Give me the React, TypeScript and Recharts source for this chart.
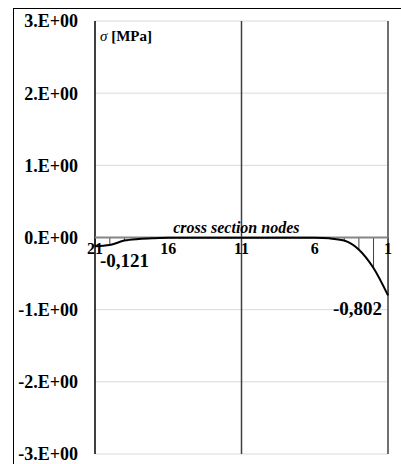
import React from 'react';
import {
  ComposedChart,
  Line,
  Bar,
  XAxis,
  YAxis,
  CartesianGrid,
  ReferenceLine,
  ReferenceDot,
  LabelList
} from 'recharts';

// stress along the cross section, node 21 -> node 1
const nodes = [21, 20, 19, 18, 17, 16, 15, 14, 13, 12, 11, 10, 9, 8, 7, 6, 5, 4, 3, 2, 1];
const stress = [
  -0.121, -0.105, -0.042, -0.02, -0.01, -0.005, -0.003, -0.002, -0.002, -0.002, -0.002,
  -0.002, -0.002, -0.002, -0.003, -0.004, -0.012, -0.042, -0.165, -0.42, -0.802
];
const nodeTicks = [21, 16, 11, 6, 1];
const yTicks = [3, 2, 1, 0, -1, -2, -3];
const dividers = [21, 11, 1];

const SERIF = '"Liberation Serif", "Times New Roman", serif';

const data = nodes.map((n, i) => ({ node: n, s: stress[i] }));

const fmtComma = (v: number) => v.toFixed(3).replace('.', ',');

const EndLabel = (props: any) => {
  const { x, y, value, index } = props;
  if (index !== 0 && index !== data.length - 1) return null;
  const first = index === 0;
  return (
    <text
      x={first ? x + 5 : x - 6}
      y={first ? y + 21 : y + 20}
      textAnchor={first ? 'start' : 'end'}
      fontFamily={SERIF}
      fontWeight="bold"
      fontSize={19}
      fill="#000"
    >
      {fmtComma(value)}
    </text>
  );
};

const UnitLabel = (props: any) => {
  const { viewBox } = props;
  return (
    <text x={viewBox.x + 5} y={viewBox.y + 20} fontFamily={SERIF} fontSize={15} fill="#000">
      <tspan fontStyle="italic">σ</tspan>
      <tspan fontWeight="bold"> [MPa]</tspan>
    </text>
  );
};

export default function App() {
  return (
    <div style={{ position: 'relative', width: 401, height: 464, overflow: 'hidden', background: '#fff' }}>
      <style>{'body{margin:0;overflow:hidden}'}</style>
      <div
        style={{
          position: 'absolute',
          left: 13,
          top: 8,
          width: 420,
          height: 480,
          border: '1px solid #000',
          boxSizing: 'border-box'
        }}
      />
      <div style={{ position: 'absolute', left: 0, top: 0 }}>
        <ComposedChart
          width={401}
          height={464}
          data={data}
          margin={{ top: 21, right: 13, bottom: 10, left: 0 }}
        >
          <CartesianGrid horizontal vertical={false} stroke="#d9d9d9" strokeWidth={1} />
          <XAxis dataKey="node" type="number" domain={[1, 21]} reversed hide />
          <YAxis
            type="number"
            domain={[-3, 3]}
            ticks={yTicks}
            width={95}
            axisLine={false}
            tickLine={false}
            tickSize={0}
            tickMargin={17}
            tickFormatter={(v: number) => `${v}.E+00`}
            tick={{ fontFamily: SERIF, fontWeight: 'bold', fontSize: 18, fill: '#000' }}
          />
          {dividers.map((d) => (
            <ReferenceLine
              key={d}
              x={d}
              stroke={d === 21 ? '#000' : '#404040'}
              strokeWidth={1.5}
            />
          ))}
          <Bar dataKey="s" barSize={1} fill="#404040" isAnimationActive={false} />
          <ReferenceLine y={0} stroke="#868686" strokeWidth={2} />
          <Line
            type="monotone"
            dataKey="s"
            stroke="#000"
            strokeWidth={2}
            dot={false}
            activeDot={false}
            isAnimationActive={false}
          >
            <LabelList dataKey="s" content={EndLabel} />
          </Line>
          {nodeTicks.map((n) => (
            <ReferenceDot
              key={n}
              x={n}
              y={0}
              r={0}
              fill="none"
              stroke="none"
              label={{
                value: String(n),
                position: 'bottom',
                offset: 5,
                fontFamily: SERIF,
                fontWeight: 'bold',
                fontSize: 16,
                fill: '#000'
              }}
            />
          ))}
          <ReferenceDot
            x={11.35}
            y={0}
            r={0}
            fill="none"
            stroke="none"
            label={{
              value: 'cross section nodes',
              position: 'top',
              offset: 5,
              fontFamily: SERIF,
              fontWeight: 'bold',
              fontStyle: 'italic',
              fontSize: 16,
              fill: '#000'
            }}
          />
          <ReferenceDot x={21} y={3} r={0} fill="none" stroke="none" label={<UnitLabel />} />
        </ComposedChart>
      </div>
    </div>
  );
}
